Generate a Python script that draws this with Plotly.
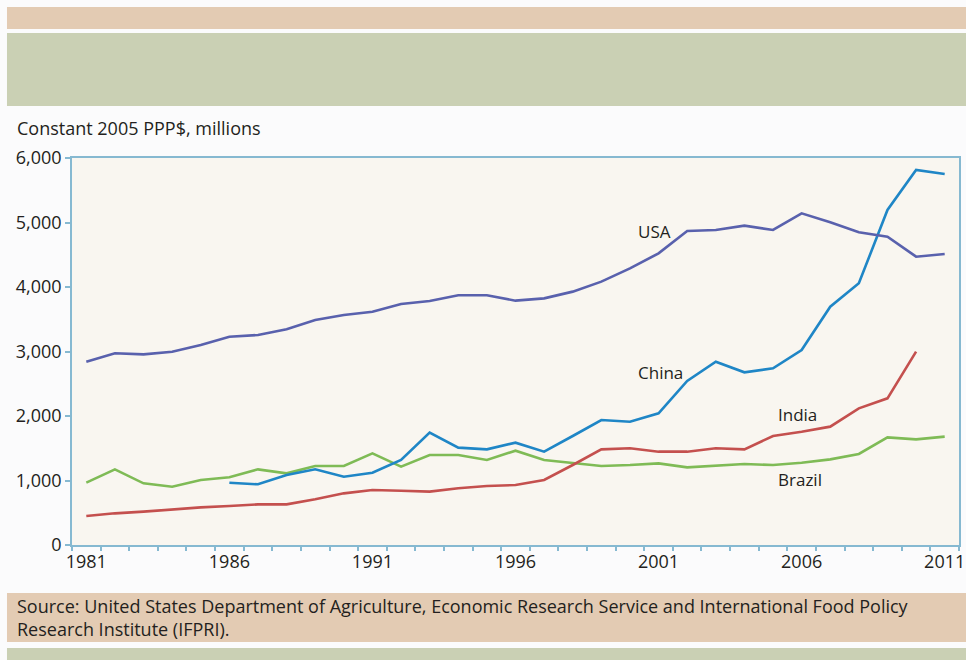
import plotly.graph_objects as go

years = list(range(1981, 2012))

usa = [2842, 2972, 2956, 2997, 3100, 3230, 3256, 3344, 3488, 3566,
       3617, 3736, 3783, 3871, 3871, 3788, 3824, 3928, 4083, 4289,
       4522, 4868, 4884, 4951, 4884, 5142, 5003, 4848, 4780, 4470, 4512]

china_years = list(range(1986, 2012))
china = [966, 941, 1085, 1173, 1059,
         1121, 1318, 1742, 1509, 1483, 1587, 1447, 1690, 1938, 1912,
         2041, 2543, 2842, 2677, 2739, 3023, 3695, 4057, 5194, 5814, 5752]

india_years = list(range(1981, 2011))
india = [450, 491, 517, 553, 584, 605, 630, 630, 708, 801,
         853, 842, 827, 879, 915, 930, 1008, 1240, 1483, 1499,
         1447, 1447, 1499, 1483, 1690, 1757, 1835, 2119, 2274, 2997]

brazil = [966, 1173, 956, 904, 1008, 1049, 1173, 1111, 1225, 1225,
          1421, 1214, 1395, 1395, 1318, 1462, 1318, 1266, 1225, 1240,
          1266, 1204, 1225, 1256, 1240, 1276, 1328, 1411, 1669, 1638, 1680]

label_years = [1981, 1986, 1991, 1996, 2001, 2006, 2011]
y_ticks = [0, 1000, 2000, 3000, 4000, 5000, 6000]

FONT = "Open Sans"
TXT = "#231f20"
AXC = "#86b9d1"

fig = go.Figure()
fig.add_trace(go.Scatter(x=years, y=brazil, mode="lines", name="Brazil",
                         line=dict(color="#7fbb56", width=2.6)))
fig.add_trace(go.Scatter(x=india_years, y=india, mode="lines", name="India",
                         line=dict(color="#c4504e", width=2.6)))
fig.add_trace(go.Scatter(x=china_years, y=china, mode="lines", name="China",
                         line=dict(color="#1f86c6", width=2.6)))
fig.add_trace(go.Scatter(x=years, y=usa, mode="lines", name="USA",
                         line=dict(color="#5961ad", width=2.6)))

# series labels
labels = [("USA", 2000.2, 4853), ("China", 2000.2, 2682),
          ("India", 2005.1, 2016), ("Brazil", 2005.1, 1023)]
for t, lx, ly in labels:
    fig.add_annotation(x=lx, y=ly, xref="x", yref="y", text=t, showarrow=False,
                       xanchor="left", yanchor="middle",
                       font=dict(family=FONT, size=17, color=TXT))

# decorative bands
def band(y0, y1, color):
    fig.add_shape(type="rect", xref="paper", yref="paper",
                  x0=-0.0733, x1=1.02, y0=y0, y1=y1,
                  fillcolor=color, line=dict(width=0), layer="below")

band(1.3333, 1.3902, "#e3cbb3")
band(1.1344, 1.3230, "#cad0b4")
band(-0.2506, -0.1240, "#e3cbb3")
band(-0.32, -0.2661, "#cad0b4")

fig.add_annotation(x=-0.0643, y=1.0775, xref="paper", yref="paper",
                   text="Constant 2005 PPP$, millions", showarrow=False,
                   xanchor="left", yanchor="middle",
                   font=dict(family=FONT, size=18, color=TXT))
fig.add_annotation(x=-0.0643, y=-0.1886, xref="paper", yref="paper",
                   text="Source: United States Department of Agriculture, Economic Research Service and International Food Policy<br>Research Institute (IFPRI).",
                   showarrow=False, xanchor="left", yanchor="middle", align="left",
                   font=dict(family=FONT, size=18, color=TXT))

fig.update_layout(
    width=966, height=660,
    margin=dict(l=72, r=7, t=158, b=115, autoexpand=False),
    paper_bgcolor="#fbfbfc",
    plot_bgcolor="#f9f6f0",
    showlegend=False,
    font=dict(family=FONT, size=16, color=TXT),
    xaxis=dict(range=[1980.5, 2011.5], tickvals=label_years,
               ticktext=[str(y) for y in label_years], automargin=False,
               ticks="", showgrid=False, zeroline=False,
               showline=True, linecolor=AXC, linewidth=1.5, mirror=True,
               tickfont=dict(family=FONT, size=18, color=TXT),
               minor=dict(ticks="outside", tick0=1980.5, dtick=1,
                          ticklen=4, tickcolor=AXC, tickwidth=1.5, showgrid=False)),
    yaxis=dict(range=[0, 6000], tickvals=y_ticks, tickformat=",d", automargin=False,
               ticks="outside", ticklen=5, tickcolor=AXC, tickwidth=1.5,
               showgrid=False, zeroline=False,
               showline=True, linecolor=AXC, linewidth=1.5, mirror=True,
               tickfont=dict(family=FONT, size=18, color=TXT)),
)

fig.write_html("out.html", config={"displayModeBar": False},
               post_script="document.body.style.margin='0';document.body.style.overflow='hidden';")
